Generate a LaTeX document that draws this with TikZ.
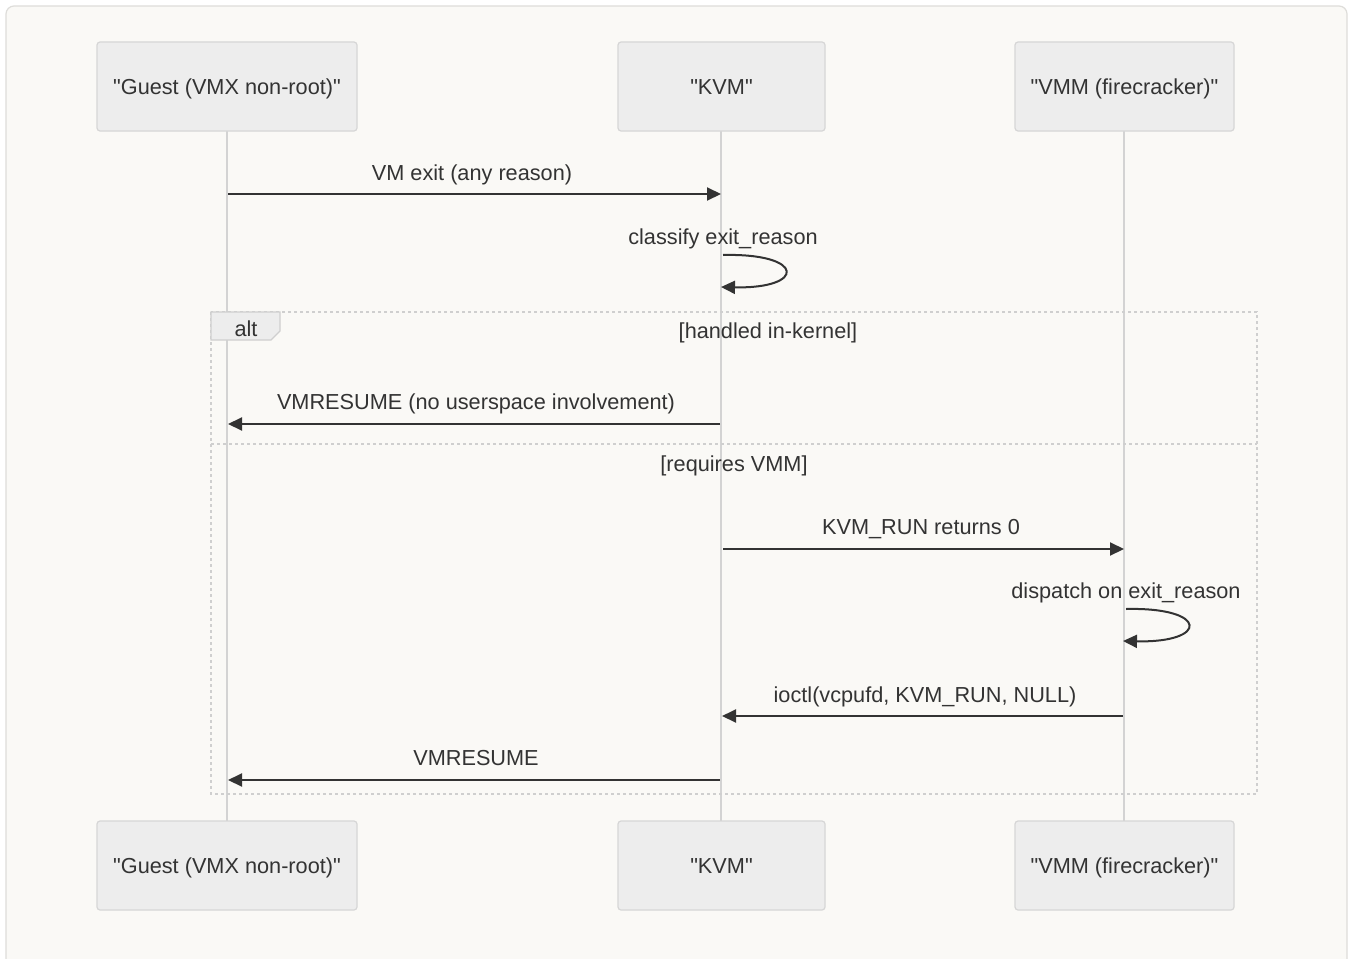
\documentclass[tikz,border=0pt]{standalone}
\usepackage{fontspec}
\setmainfont{Liberation Sans}
\usetikzlibrary{arrows.meta}
\definecolor{pagebg}{HTML}{FFFFFF}
\definecolor{cardbg}{HTML}{FAF9F6}
\definecolor{cardline}{HTML}{DEDDDA}
\definecolor{boxfill}{HTML}{EDEDED}
\definecolor{boxline}{HTML}{D6D6D6}
\definecolor{life}{HTML}{D3D3D3}
\definecolor{ink}{HTML}{333333}
\definecolor{framec}{HTML}{CFCFCF}
\newcommand{\qt}[1]{\textquotedbl#1\textquotedbl}
\tikzset{
  txt/.style={text=ink, font=\fontsize{21.7}{26}\selectfont, inner sep=0pt,
    text height=20pt, text depth=4pt},
  actor/.style={txt, draw=boxline, fill=boxfill, rounded corners=3pt,
    line width=1.2pt, minimum height=89pt},
  lifeline/.style={draw=life, line width=2.2pt},
  msg/.style={draw=ink, line width=2pt, -{Triangle[length=14pt,width=13pt]}},
  altframe/.style={draw=framec, line width=2pt, dash pattern=on 3pt off 3pt},
}
\begin{document}
\begin{tikzpicture}[x=1pt,y=-1pt]
\useasboundingbox (0,0) rectangle (1351,958);
\fill[pagebg] (0,0) rectangle (1351,958);
\draw[cardline, fill=cardbg, line width=1.2pt, rounded corners=8pt] (6,6) rectangle (1347,975);

% lifelines
\draw[lifeline] (227,131) coordinate (gl0) -- (227,821) coordinate (gl1);
\draw[lifeline] (721,131) coordinate (kl0) -- (721,821) coordinate (kl1);
\draw[lifeline] (1124,131) coordinate (vl0) -- (1124,821) coordinate (vl1);

% participants (top and bottom)
\node[actor, minimum width=260pt] (gt) at (227,86.5) {\qt{Guest (VMX non-root)}};
\node[actor, minimum width=207pt] (kt) at (721.5,86.5) {\qt{KVM}};
\node[actor, minimum width=219pt] (vt) at (1124.5,86.5) {\qt{VMM (firecracker)}};
\node[actor, minimum width=260pt] (gb) at (227,865.5) {\qt{Guest (VMX non-root)}};
\node[actor, minimum width=207pt] (kb) at (721.5,865.5) {\qt{KVM}};
\node[actor, minimum width=219pt] (vb) at (1124.5,865.5) {\qt{VMM (firecracker)}};

% alt fragment
\draw[altframe] (211,312) rectangle (1257,794);
\draw[altframe] (211,444) -- (1257,444);
\draw[framec, line width=1.2pt, fill=boxfill]
  (211,312) -- (280,312) -- (280,331) -- (271,340) -- (211,340) -- cycle;
\node[txt] (altlbl) at (246,328) {alt};
\node[txt] (g1lbl) at (768,330) {[handled in-kernel]};
\node[txt] (g2lbl) at (734,463) {[requires VMM]};

% message end points on the lifelines
\coordinate (m1a) at (228,194);  \coordinate (m1b) at (721,194);
\coordinate (s1a) at (723,255);  \coordinate (s1b) at (721,287);
\coordinate (m2a) at (720,424);  \coordinate (m2b) at (228,424);
\coordinate (m3a) at (723,549);  \coordinate (m3b) at (1124,549);
\coordinate (s2a) at (1126,609); \coordinate (s2b) at (1123,641);
\coordinate (m4a) at (1123,716); \coordinate (m4b) at (722,716);
\coordinate (m5a) at (720,780);  \coordinate (m5b) at (228,780);

% messages
\draw[msg] (m1a) -- (m1b);
\node[txt] (l1) at (472,172) {VM exit (any reason)};

\draw[msg] (s1a) .. controls (806,253) and (806,289) .. (s1b);
\node[txt] (l2) at (723,236) {classify exit\_reason};

\draw[msg] (m2a) -- (m2b);
\node[txt] (l3) at (476,401) {VMRESUME (no userspace involvement)};

\draw[msg] (m3a) -- (m3b);
\node[txt] (l4) at (921,526) {KVM\_RUN returns 0};

\draw[msg] (s2a) .. controls (1209,607) and (1209,643) .. (s2b);
\node[txt] (l5) at (1126,590) {dispatch on exit\_reason};

\draw[msg] (m4a) -- (m4b);
\node[txt] (l6) at (925,694) {ioctl(vcpufd, KVM\_RUN, NULL)};

\draw[msg] (m5a) -- (m5b);
\node[txt] (l7) at (476,757) {VMRESUME};
\end{tikzpicture}
\end{document}
